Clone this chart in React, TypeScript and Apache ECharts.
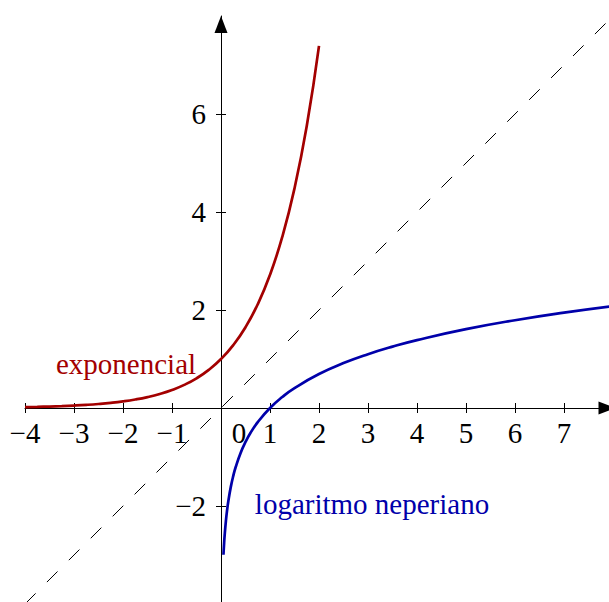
import React, { useEffect, useRef } from "react";
import * as echarts from "echarts";

// Tick values
const xTickValues = [-4, -3, -2, -1, 1, 2, 3, 4, 5, 6, 7];
const xLabelValues = [-4, -3, -2, -1, 0, 1, 2, 3, 4, 5, 6, 7];
const yTickValues = [-2, 2, 4, 6];

// Exponential curve samples (x, y)
const expX = [-4, -3.75, -3.5, -3.25, -3, -2.75, -2.5, -2.25, -2, -1.75, -1.5, -1.25, -1, -0.75, -0.5, -0.25, 0, 0.25, 0.5, 0.75, 1, 1.25, 1.5, 1.75, 2];
const expY = [0.0183, 0.0235, 0.0302, 0.0388, 0.0498, 0.0639, 0.0821, 0.1054, 0.1353, 0.1738, 0.2231, 0.2865, 0.3679, 0.4724, 0.6065, 0.7788, 1, 1.284, 1.6487, 2.117, 2.7183, 3.4903, 4.4817, 5.7546, 7.3891];

// Natural logarithm curve samples (x, y)
const lnX = [0.05, 0.06, 0.075, 0.1, 0.125, 0.15, 0.2, 0.25, 0.3, 0.4, 0.5, 0.6, 0.75, 1, 1.25, 1.5, 2, 2.5, 3, 3.5, 4, 5, 6, 7, 8];
const lnY = [-2.9957, -2.8134, -2.5903, -2.3026, -2.0794, -1.8971, -1.6094, -1.3863, -1.204, -0.9163, -0.6931, -0.5108, -0.2877, 0, 0.2231, 0.4055, 0.6931, 0.9163, 1.0986, 1.2528, 1.3863, 1.6094, 1.7918, 1.9459, 2.0794];

// Identity line y = x
const diagX = [-4, 8];
const diagY = [-4, 8];

const X_MIN = -4;
const X_MAX = 7.918;
const Y_MIN = -3.959;
const Y_MAX = 8;

const W = 609;
const H = 602;
const GRID = { left: 25, right: 0, top: 16, bottom: 0 };

const FONT = "'Liberation Serif', 'DejaVu Serif', serif";
const RED = "#a30000";
const BLUE = "#0000aa";

const fmt = (v: number) => {
  if (v === 0) return "{z|0}";
  return v < 0 ? "\u2212" + Math.abs(v) : String(v);
};

export default function App() {
  const ref = useRef<HTMLDivElement>(null);

  useEffect(() => {
    if (!ref.current) return;
    const chart = echarts.init(ref.current, null, { renderer: "svg" });
    const axisLineStyle = { color: "#000", width: 1 };
    const labelBase = { fontFamily: FONT, fontSize: 29, color: "#000" };

    // place the axes through the origin with offsets derived from the scales
    const gw = W - GRID.left - GRID.right;
    const gh = H - GRID.top - GRID.bottom;
    const xOffset = -((0 - Y_MIN) / (Y_MAX - Y_MIN)) * gh;
    const yOffset = -((0 - X_MIN) / (X_MAX - X_MIN)) * gw;

    const xBase = {
      type: "value",
      position: "bottom",
      min: X_MIN,
      max: X_MAX,
      offset: xOffset,
      splitLine: { show: false },
    };
    const yBase = {
      type: "value",
      position: "left",
      min: Y_MIN,
      max: Y_MAX,
      offset: yOffset,
      splitLine: { show: false },
    };

    chart.setOption({
      animation: false,
      backgroundColor: "#fff",
      grid: { ...GRID, outerBoundsMode: "none", containLabel: false },
      xAxis: [
        {
          ...xBase,
          axisLine: {
            onZero: false,
            lineStyle: axisLineStyle,
            symbol: ["none", "triangle"],
            symbolSize: [13, 17],
            symbolOffset: [0, -2],
          },
          axisTick: { show: true, customValues: xTickValues, inside: false, length: 5, lineStyle: axisLineStyle },
          axisLabel: {
            ...labelBase,
            customValues: xLabelValues,
            margin: 10,
            formatter: fmt,
            rich: { z: { ...labelBase, padding: [0, 0, 0, 36] } },
          },
        },
        {
          ...xBase,
          axisLine: { show: false, onZero: false },
          axisTick: { show: true, customValues: xTickValues, inside: true, length: 5, lineStyle: axisLineStyle },
          axisLabel: { show: false },
        },
      ],
      yAxis: [
        {
          ...yBase,
          axisLine: {
            onZero: false,
            lineStyle: axisLineStyle,
            symbol: ["none", "triangle"],
            symbolSize: [13, 17],
            symbolOffset: [0, -8.5],
          },
          axisTick: { show: true, customValues: yTickValues, inside: false, length: 5, lineStyle: axisLineStyle },
          axisLabel: { ...labelBase, customValues: yTickValues, margin: 15, formatter: fmt },
        },
        {
          ...yBase,
          axisLine: { show: false, onZero: false },
          axisTick: { show: true, customValues: yTickValues, inside: true, length: 5, lineStyle: axisLineStyle },
          axisLabel: { show: false },
        },
      ],
      series: [
        {
          type: "line",
          xAxisIndex: 0,
          yAxisIndex: 0,
          data: diagX.map((x, i) => [x, diagY[i]]),
          showSymbol: false,
          lineStyle: { color: "#000", width: 1, type: [15, 16] },
          z: 3,
        },
        {
          type: "line",
          xAxisIndex: 0,
          yAxisIndex: 0,
          data: expX.map((x, i) => [x, expY[i]]),
          smooth: true,
          showSymbol: false,
          lineStyle: { color: RED, width: 2.7 },
          z: 4,
        },
        {
          type: "line",
          xAxisIndex: 0,
          yAxisIndex: 0,
          data: lnX.map((x, i) => [x, lnY[i]]),
          smooth: true,
          showSymbol: false,
          lineStyle: { color: BLUE, width: 2.7 },
          z: 4,
        },
      ],
      graphic: [
        {
          type: "text",
          x: 126,
          y: 364,
          style: { text: "exponencial", fill: RED, font: `29px ${FONT}`, align: "center", verticalAlign: "middle" },
        },
        {
          type: "text",
          x: 372,
          y: 504,
          style: { text: "logaritmo neperiano", fill: BLUE, font: `29px ${FONT}`, align: "center", verticalAlign: "middle" },
        },
      ],
    });
    return () => chart.dispose();
  }, []);

  return (
    <div
      ref={ref}
      style={{ position: "absolute", left: 0, top: 0, width: W, height: H, background: "#fff" }}
    />
  );
}
